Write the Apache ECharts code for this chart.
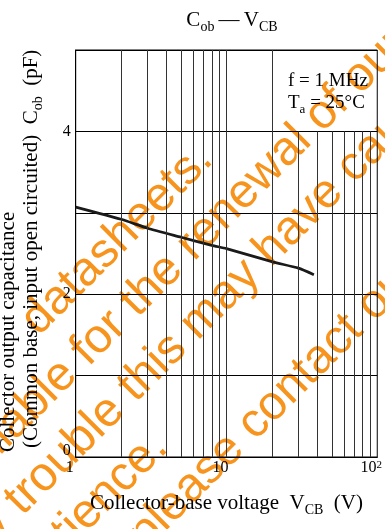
<!DOCTYPE html>
<html>
<head>
<meta charset="utf-8">
<script src="https://cdn.jsdelivr.net/npm/echarts@6/dist/echarts.min.js"></script>
<style>
  html, body { margin: 0; padding: 0; background: #fff; }
  #chart { width: 385px; height: 529px; }
</style>
</head>
<body>
<div id="chart"></div>
<script>
// Cob vs VCB curve (f = 1 MHz, Ta = 25 °C)
const vcb = [1, 2, 3, 5, 8, 10, 20, 30, 38];
const cob = [3.07, 2.92, 2.81, 2.70, 2.60, 2.56, 2.40, 2.32, 2.24];

// Log grid: lines over the full height, and the ones that stop below the note box
const fullGridX = [2, 3, 4, 5, 6, 7, 8, 9, 10, 20];
const shortGridX = [30, 40, 50, 60, 70, 80, 90];
const shortGridTop = 4;

// Axis ranges and labelled ticks
const xRange = [1, 100];
const yRange = [0, 5];
const yLabelled = [0, 2, 4];

// Overprinted notice, one entry per diagonal row (pre ends and post starts at x, y)
const noticeRows = [
  { pre: 'datasheets.', post: '', x: 205, y: 152 },
  { pre: 'available for the renewal ', post: 'of our licence', x: 313, y: 124 },
  { pre: 'Sorry for any trouble this may have ', post: 'caused', x: 345, y: 175 },
  { pre: 'Thank you for your patience.', post: '', x: 160, y: 440 },
  { pre: 'please ', post: 'contact our office', x: 246, y: 432 }
];

const SERIF = '"Liberation Serif", "Times New Roman", serif';
const SANS = '"Liberation Sans", Arial, sans-serif';
const ORANGE = '#F7941D';
const NOTICE_FONT = '48px ' + SANS;

const chart = echarts.init(document.getElementById('chart'), null, { renderer: 'canvas' });

const noticeEls = [];
noticeRows.forEach(r => {
  if (r.pre) noticeEls.push({
    type: 'text', x: r.x, y: r.y, rotation: Math.PI / 4, z: -1, silent: true,
    style: { text: r.pre, fill: ORANGE, font: NOTICE_FONT, textAlign: 'right', textVerticalAlign: 'middle' }
  });
  if (r.post) noticeEls.push({
    type: 'text', x: r.x, y: r.y, rotation: Math.PI / 4, z: -1, silent: true,
    style: { text: r.post, fill: ORANGE, font: NOTICE_FONT, textAlign: 'left', textVerticalAlign: 'middle' }
  });
});

const gridLines = fullGridX.map(v => ({ xAxis: v }))
  .concat(shortGridX.map(v => [{ coord: [v, yRange[0]] }, { coord: [v, shortGridTop] }]));

const mainRich = (size) => ({
  m: { fontFamily: SERIF, fontSize: size, fontWeight: 'normal', color: '#000', verticalAlign: 'bottom', padding: [0, 0, 3, 0] },
  s: { fontFamily: SERIF, fontSize: Math.round(size * 0.67), fontWeight: 'normal', color: '#000', verticalAlign: 'bottom' }
});

chart.setOption({
  animation: false,
  backgroundColor: '#fff',
  title: {
    text: '{m|C}{s|ob}{m|\u2009\u2014\u2009}{m|V}{s|CB}',
    left: 227, top: 5, textAlign: 'center',
    textStyle: { fontWeight: 'normal', rich: mainRich(21) }
  },
  grid: {
    left: 75.7, top: 50, width: 302.3, height: 407,
    show: true, borderColor: '#000', borderWidth: 1, backgroundColor: 'transparent'
  },
  xAxis: {
    type: 'log', logBase: 10, min: xRange[0], max: xRange[1],
    axisLine: { show: true, lineStyle: { color: '#000', width: 1 } },
    axisTick: { show: false },
    splitLine: { show: false },
    axisLabel: {
      margin: 3, color: '#000', fontFamily: SERIF, fontSize: 16, padding: [0, 12, 0, 0],
      formatter: v => (Math.abs(v - 100) < 1e-6 ? '{b|10}{sup|2}' : String(Math.round(v))),
      rich: {
        b: { fontFamily: SERIF, fontSize: 16, color: '#000', verticalAlign: 'bottom' },
        sup: { fontFamily: SERIF, fontSize: 11, color: '#000', verticalAlign: 'top' }
      }
    },
    name: '{m|Collector-base voltage  V}{s|CB}{m|  (V)}',
    nameLocation: 'middle', nameGap: 36,
    nameTextStyle: { rich: mainRich(21) }
  },
  yAxis: {
    type: 'value', min: yRange[0], max: yRange[1], interval: 1,
    axisLine: { show: true, lineStyle: { color: '#000', width: 1 } },
    axisTick: { show: false },
    splitLine: { show: true, lineStyle: { color: '#000', width: 1 } },
    axisLabel: {
      margin: 5, color: '#000', fontFamily: SERIF, fontSize: 16,
      formatter: v => (yLabelled.indexOf(v) < 0 ? '' : (v === 0 ? '{z|0}' : String(v))),
      rich: { z: { fontFamily: SERIF, fontSize: 16, color: '#000', padding: [0, 0, 12, 0] } }
    }
  },
  graphic: {
    elements: noticeEls.concat([
      {
        type: 'text', x: 8, y: 452, rotation: Math.PI / 2, z: 5,
        style: { text: 'Collector output capacitance', fill: '#000', font: '21px ' + SERIF, textAlign: 'left', textVerticalAlign: 'middle' }
      },
      {
        type: 'text', x: 33, y: 448, rotation: Math.PI / 2, z: 5,
        style: {
          text: '{m|(Common base, input open circuited)  C}{s|ob}{m|  (pF)}',
          textAlign: 'left', textVerticalAlign: 'middle',
          rich: {
            m: { fontFamily: SERIF, fontSize: 21, fill: '#000', verticalAlign: 'bottom', padding: [0, 0, 3, 0] },
            s: { fontFamily: SERIF, fontSize: 14, fill: '#000', verticalAlign: 'bottom' }
          }
        }
      },
      {
        type: 'text', x: 288, y: 72, z: 5,
        style: {
          text: '{m|f = 1 MHz}\n{m|T}{s|a}{m| = 25\u00b0C}',
          textAlign: 'left', textVerticalAlign: 'top',
          rich: {
            m: { fontFamily: SERIF, fontSize: 19, fill: '#000', verticalAlign: 'bottom', padding: [0, 0, 3, 0], lineHeight: 22 },
            s: { fontFamily: SERIF, fontSize: 13, fill: '#000', verticalAlign: 'bottom' }
          }
        }
      }
    ])
  },
  series: [
    {
      type: 'line', data: [], z: 1, silent: true,
      markLine: {
        silent: true, symbol: ['none', 'none'], label: { show: false },
        lineStyle: { color: '#333', width: 1, type: 'solid' },
        emphasis: { disabled: true },
        data: gridLines
      }
    },
    {
      type: 'line', z: 4,
      data: vcb.map((v, i) => [v, cob[i]]),
      showSymbol: false, smooth: 0.2,
      lineStyle: { color: '#1a1a1a', width: 2.7 }
    }
  ]
});
</script>
</body>
</html>
